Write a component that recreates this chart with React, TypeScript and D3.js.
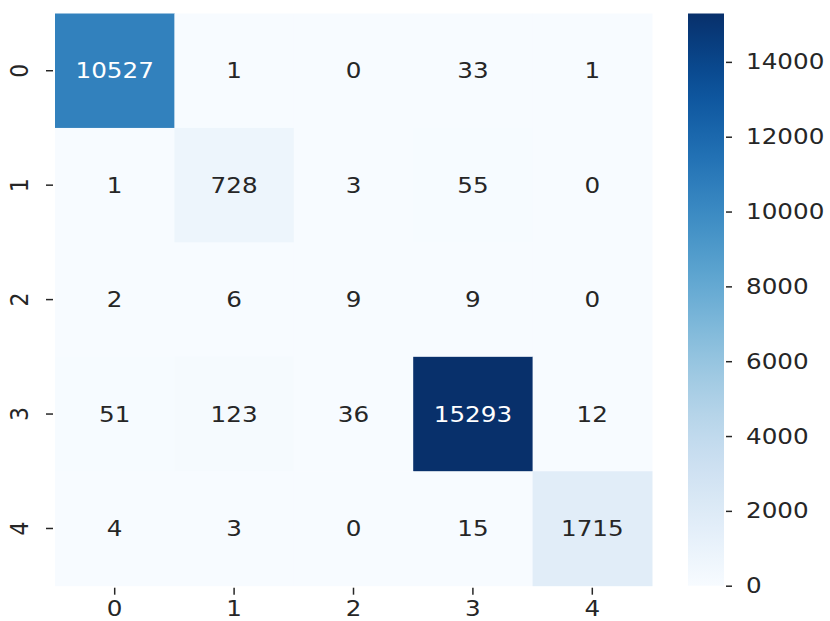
import React, { useEffect, useRef } from 'react';
import * as d3 from 'd3';

const rowLabels = ['0', '1', '2', '3', '4'];
const colLabels = ['0', '1', '2', '3', '4'];
const row0 = [10527, 1, 0, 33, 1];
const row1 = [1, 728, 3, 55, 0];
const row2 = [2, 6, 9, 9, 0];
const row3 = [51, 123, 36, 15293, 12];
const row4 = [4, 3, 0, 15, 1715];
const matrix = [row0, row1, row2, row3, row4];
const colorbarTicks = [0, 2000, 4000, 6000, 8000, 10000, 12000, 14000];

// the reference picture is a bit wider than tall, so glyphs are stretched
const SX = 1.12;

const App: React.FC = () => {
  const svgRef = useRef<SVGSVGElement | null>(null);

  useEffect(() => {
    if (!svgRef.current) return;
    const svg = d3.select(svgRef.current);
    svg.selectAll('*').remove();

    const left = 55, right = 652, top = 13.5, bottom = 585.7;
    const font = 'DejaVu Sans, sans-serif';
    const fs = 22;
    const ink = '#262626';
    const vmax = d3.max(matrix.flat()) || 1;

    const x = d3.scaleBand<string>().domain(colLabels).range([left, right]);
    const y = d3.scaleBand<string>().domain(rowLabels).range([top, bottom]);
    const color = d3.scaleSequential(d3.interpolateBlues).domain([0, vmax]);

    const lin = (c: number) => {
      const s = c / 255;
      return s <= 0.03928 ? s / 12.92 : Math.pow((s + 0.055) / 1.055, 2.4);
    };
    const textColor = (v: number) => {
      const c = d3.rgb(color(v));
      const lum = 0.2126 * lin(c.r) + 0.7152 * lin(c.g) + 0.0722 * lin(c.b);
      return lum > 0.408 ? ink : 'white';
    };

    // cells
    const cells = matrix.flatMap((row, i) =>
      row.map((v, j) => ({ r: rowLabels[i], c: colLabels[j], v })));

    const g = svg.append('g');
    g.selectAll('rect')
      .data(cells)
      .join('rect')
      .attr('x', d => x(d.c)!)
      .attr('y', d => y(d.r)!)
      .attr('width', x.bandwidth() + 0.5)
      .attr('height', y.bandwidth() + 0.5)
      .attr('fill', d => color(d.v));

    g.selectAll('text')
      .data(cells)
      .join('text')
      .attr('transform', d =>
        `translate(${x(d.c)! + x.bandwidth() / 2},${y(d.r)! + y.bandwidth() / 2}) scale(${SX},1)`)
      .attr('dy', '0.35em')
      .attr('text-anchor', 'middle')
      .style('font', `${fs}px ${font}`)
      .attr('fill', d => textColor(d.v))
      .text(d => String(d.v));

    // x axis
    const xAxis = svg.append('g')
      .attr('transform', `translate(0,${bottom})`)
      .call(d3.axisBottom(x).tickSize(7).tickPadding(8));
    xAxis.select('.domain').remove();
    xAxis.selectAll('line').attr('stroke', ink).attr('stroke-width', 1.5).attr('transform', 'translate(0,2)');
    xAxis.selectAll('text')
      .style('font', `${fs}px ${font}`)
      .attr('fill', ink)
      .attr('transform', `scale(${SX},1)`);

    // y axis with rotated labels
    const yAxis = svg.append('g')
      .attr('transform', `translate(${left},0)`)
      .call(d3.axisLeft(y).tickSize(7));
    yAxis.select('.domain').remove();
    yAxis.selectAll('line').attr('stroke', ink).attr('stroke-width', 1.5).attr('transform', 'translate(-2,0)');
    yAxis.selectAll('text')
      .style('font', `${fs}px ${font}`)
      .attr('fill', ink)
      .attr('text-anchor', 'middle')
      .attr('dy', null)
      .attr('x', null)
      .attr('transform', `translate(-35,0) scale(${SX},1) rotate(-90)`)
      .attr('dominant-baseline', 'central');

    // colorbar
    const cbLeft = 688, cbWidth = 36;
    const cbScale = d3.scaleLinear().domain([0, vmax]).range([bottom, top]);
    const defs = svg.append('defs');
    const grad = defs.append('linearGradient')
      .attr('id', 'cbGrad')
      .attr('x1', 0).attr('y1', 1).attr('x2', 0).attr('y2', 0);
    d3.range(0, 1.0001, 0.05).forEach(t => {
      grad.append('stop').attr('offset', t).attr('stop-color', d3.interpolateBlues(t));
    });
    svg.append('rect')
      .attr('x', cbLeft)
      .attr('y', top)
      .attr('width', cbWidth)
      .attr('height', bottom - top)
      .attr('fill', 'url(#cbGrad)');

    const cbAxis = svg.append('g')
      .attr('transform', `translate(${cbLeft + cbWidth},0)`)
      .call(d3.axisRight(cbScale).tickValues(colorbarTicks).tickFormat(d3.format('d')).tickSize(6));
    cbAxis.select('.domain').remove();
    cbAxis.selectAll('line').attr('stroke', ink).attr('stroke-width', 1.5).attr('transform', 'translate(2,0)');
    cbAxis.selectAll('text')
      .style('font', `${fs}px ${font}`)
      .attr('fill', ink)
      .attr('x', 22 / SX)
      .attr('transform', `scale(${SX},1)`);
  }, []);

  return (
    <svg ref={svgRef} width={830} height={621}
      style={{ position: 'absolute', left: 0, top: 0, background: 'white' }} />
  );
};

export default App;
